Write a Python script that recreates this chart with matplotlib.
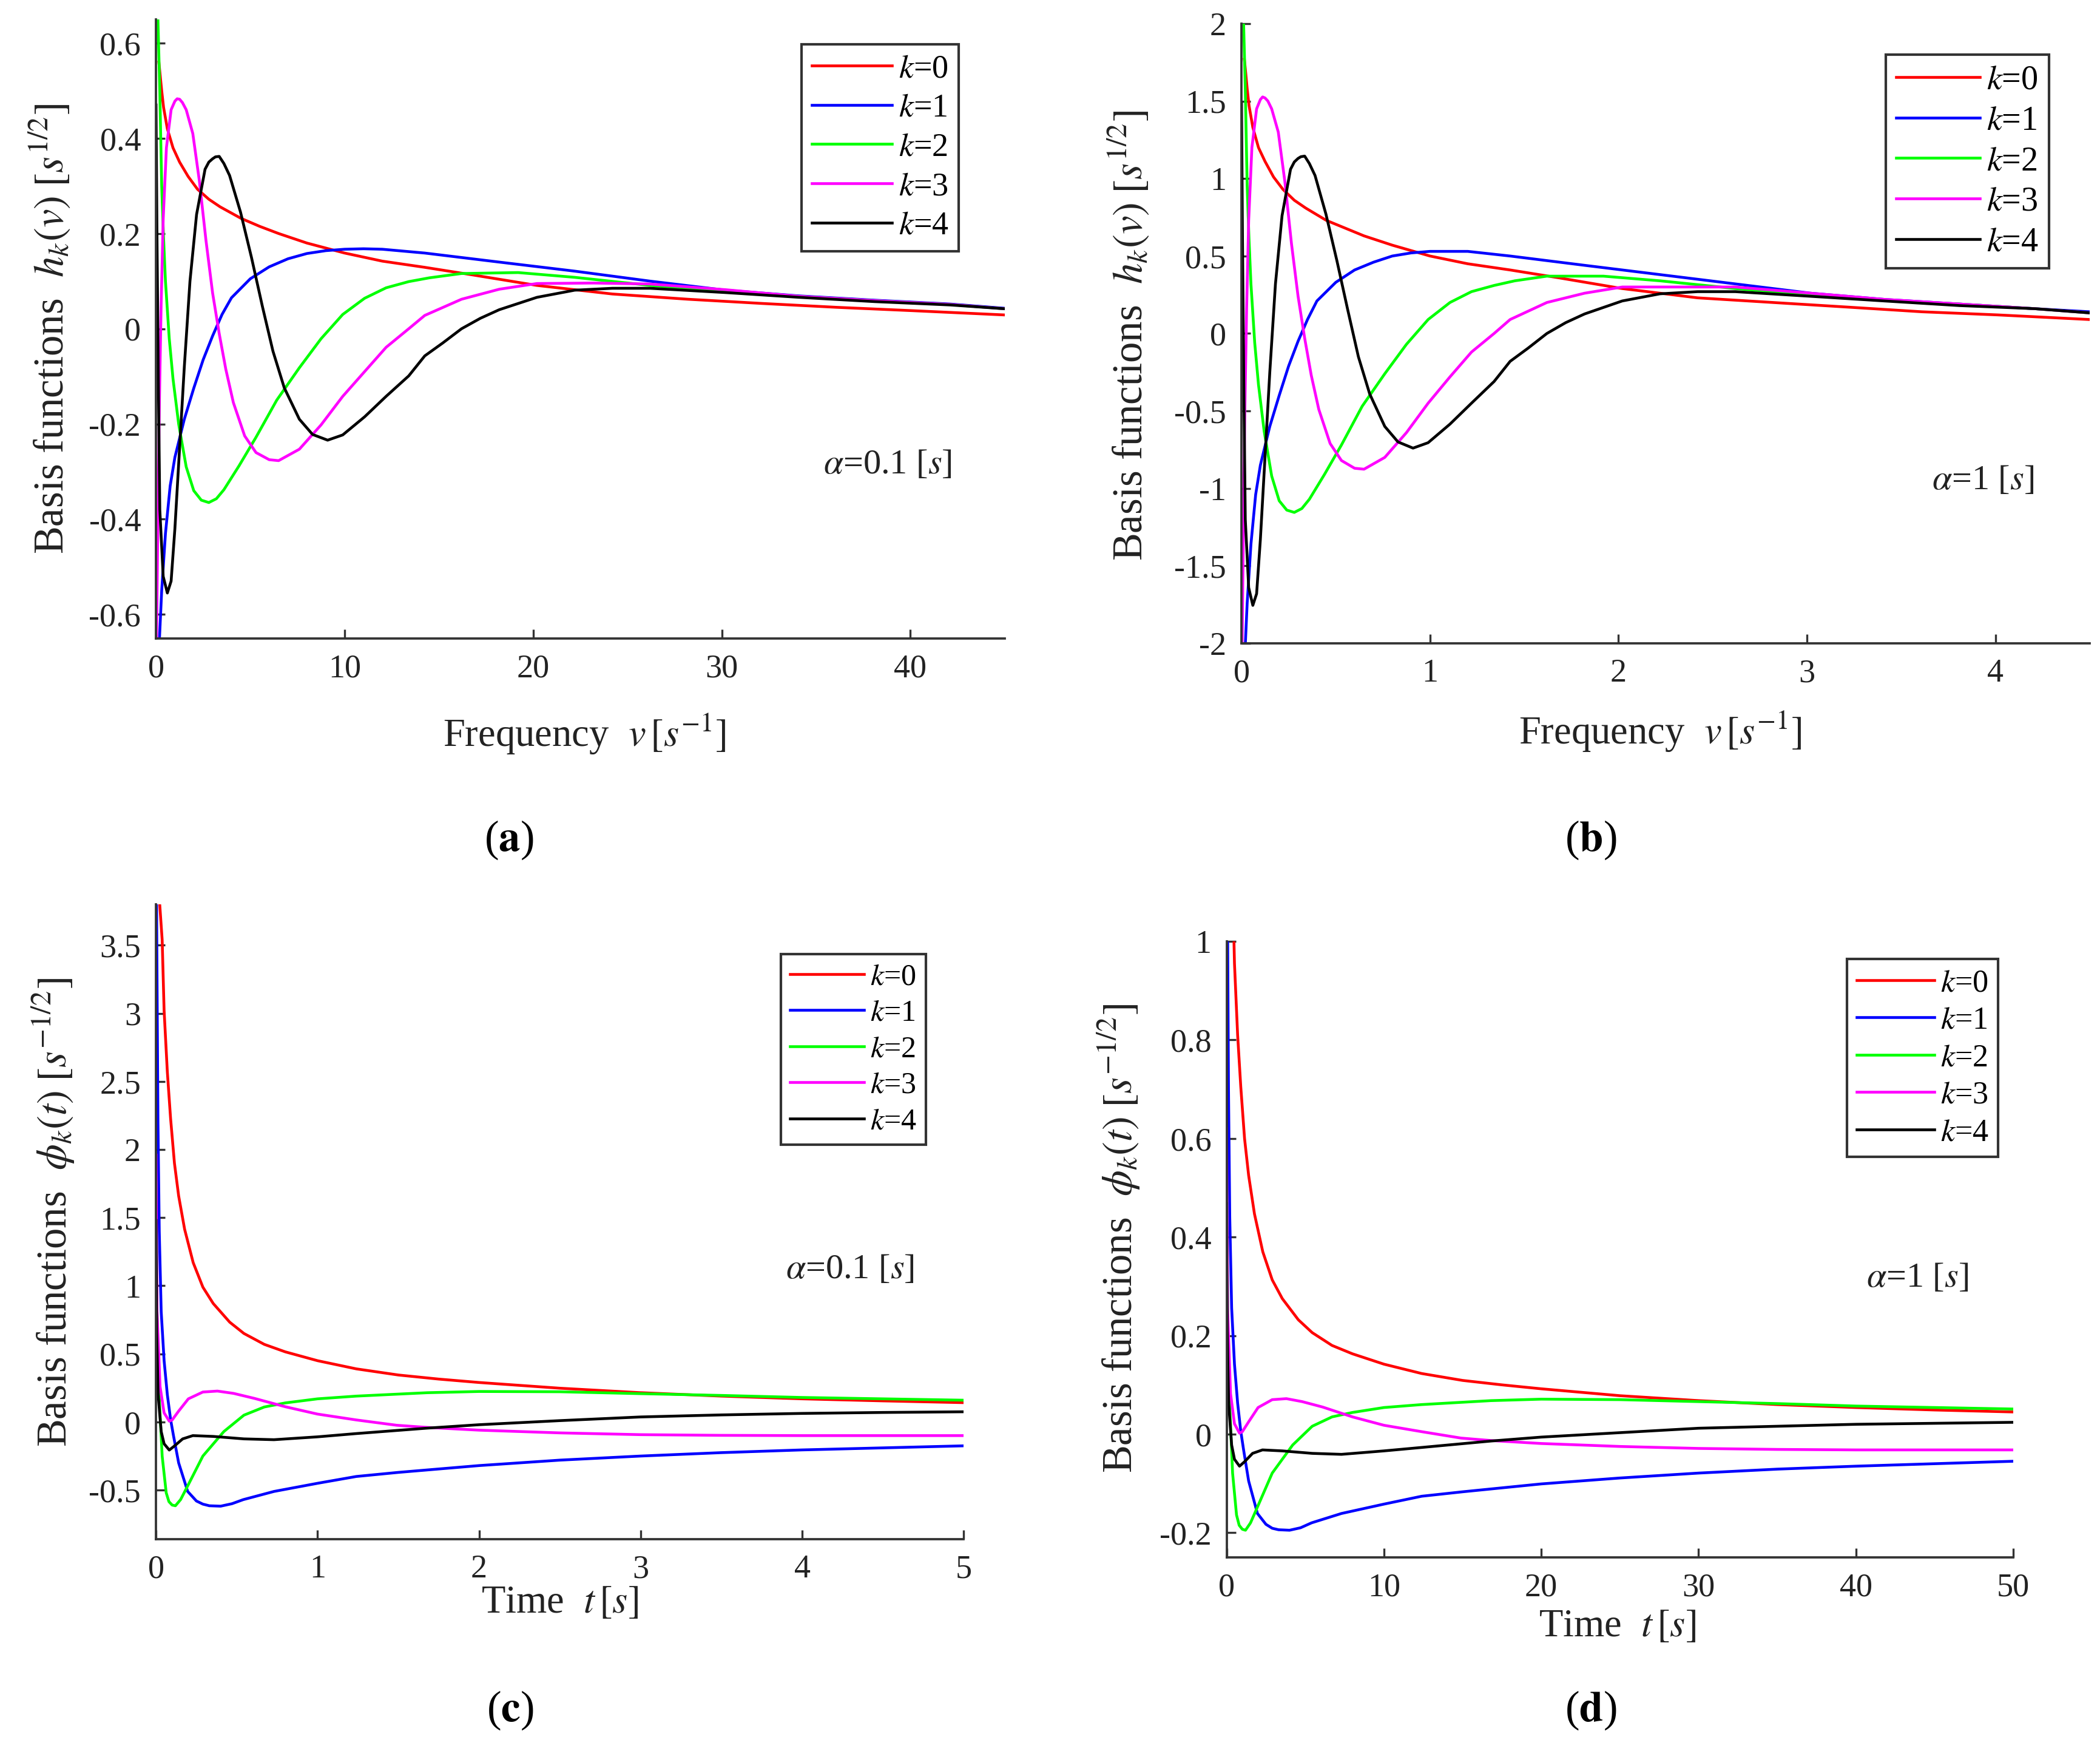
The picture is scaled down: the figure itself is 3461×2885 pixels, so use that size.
import matplotlib
matplotlib.use("Agg")
import matplotlib.pyplot as plt

plt.rcParams["font.family"] = ["Liberation Serif", "DejaVu Serif"]
plt.rcParams["mathtext.fontset"] = "stix"
plt.rcParams["axes.unicode_minus"] = False

# ---- panel (a): frequency domain, alpha = 0.1 s ----
a_k0_x = [0.15, 0.2, 0.3, 0.4, 0.6, 0.9, 1.25, 1.7, 2.2, 2.8, 3.4, 4.5, 5.5, 6.5, 8, 10, 12, 14.25, 16.8, 20.2, 24.2, 28.2, 32.2, 36.1, 40.1, 45]
a_k0_y = [0.56, 0.54, 0.5, 0.465, 0.42, 0.38, 0.35, 0.32, 0.293, 0.272, 0.256, 0.232, 0.215, 0.2, 0.18, 0.159, 0.142, 0.129, 0.113, 0.091, 0.073, 0.062, 0.053, 0.045, 0.038, 0.029]
a_k1_x = [0.16, 0.3, 0.5, 0.75, 1.0, 1.5, 2.0, 2.5, 3.0, 3.5, 4.0, 5, 6, 7, 8, 9, 10, 11, 12, 14.25, 18.2, 22.2, 26.2, 30.2, 34.1, 38.1, 42.1, 45]
a_k1_y = [-0.67, -0.55, -0.43, -0.33, -0.27, -0.19, -0.125, -0.065, -0.015, 0.03, 0.065, 0.105, 0.13, 0.147, 0.158, 0.164, 0.167, 0.168, 0.167, 0.159, 0.14, 0.121, 0.10, 0.081, 0.069, 0.06, 0.052, 0.043]
a_k2_x = [0.08, 0.2, 0.3, 0.4, 0.5, 0.6, 0.7, 0.9, 1.2, 1.6, 2.0, 2.4, 2.8, 3.2, 3.6, 4.4, 5.3, 6.4, 7.6, 8.75, 9.9, 11.06, 12.2, 13.4, 14.5, 16.2, 19.2, 22.2, 26.2, 30.2, 34.1, 38.1, 42.1, 45]
a_k2_y = [0.68, 0.5, 0.3, 0.19, 0.1, 0.04, -0.02, -0.105, -0.2, -0.29, -0.34, -0.36, -0.365, -0.357, -0.338, -0.288, -0.228, -0.15, -0.082, -0.021, 0.03, 0.064, 0.086, 0.099, 0.107, 0.116, 0.118, 0.108, 0.091, 0.08, 0.068, 0.059, 0.051, 0.042]
a_k3_x = [0.02, 0.1, 0.18, 0.27, 0.38, 0.55, 0.8, 1.0, 1.12, 1.25, 1.4, 1.6, 1.95, 2.3, 2.65, 3.0, 3.35, 3.7, 4.1, 4.7, 5.3, 6.0, 6.5, 7.6, 8.75, 9.9, 11.06, 12.2, 13.4, 14.25, 16.2, 18.2, 20.2, 23.2, 26.2, 30.2, 34.1, 38.1, 42.1, 45]
a_k3_y = [-0.67, -0.4, -0.15, 0.05, 0.23, 0.38, 0.46, 0.478, 0.483, 0.482, 0.475, 0.46, 0.41, 0.31, 0.185, 0.075, -0.01, -0.085, -0.155, -0.225, -0.26, -0.275, -0.277, -0.253, -0.202, -0.142, -0.09, -0.039, 0.0, 0.028, 0.062, 0.083, 0.095, 0.096, 0.094, 0.082, 0.068, 0.059, 0.051, 0.042]
a_k4_x = [0.0, 0.05, 0.12, 0.2, 0.38, 0.6, 0.8, 1.0, 1.25, 1.5, 1.8, 2.15, 2.6, 2.8, 3.0, 3.15, 3.35, 3.6, 3.9, 4.48, 5.06, 5.64, 6.2, 6.8, 7.6, 8.3, 9.1, 9.9, 11.06, 12.2, 13.4, 14.25, 15.2, 16.2, 17.2, 18.2, 20.2, 22.2, 24.2, 26.2, 30.2, 34.1, 38.1, 42.1, 45]
a_k4_y = [0.47, 0.2, -0.1, -0.38, -0.52, -0.555, -0.53, -0.42, -0.25, -0.08, 0.1, 0.24, 0.335, 0.35, 0.357, 0.361, 0.362, 0.347, 0.322, 0.245, 0.15, 0.047, -0.047, -0.124, -0.19, -0.222, -0.234, -0.223, -0.185, -0.142, -0.099, -0.057, -0.03, 0.0, 0.022, 0.04, 0.066, 0.081, 0.085, 0.085, 0.076, 0.066, 0.057, 0.05, 0.042]

# ---- panel (b): frequency domain, alpha = 1 s ----
b_k0_x = [0.015, 0.02, 0.03, 0.04, 0.06, 0.09, 0.125, 0.17, 0.22, 0.28, 0.34, 0.45, 0.55, 0.65, 0.8, 1.0, 1.2, 1.425, 1.68, 2.02, 2.42, 2.82, 3.22, 3.61, 4.01, 4.5]
b_k0_y = [1.77, 1.71, 1.58, 1.47, 1.33, 1.20, 1.11, 1.01, 0.93, 0.86, 0.81, 0.73, 0.68, 0.63, 0.57, 0.50, 0.45, 0.41, 0.36, 0.29, 0.23, 0.20, 0.17, 0.14, 0.12, 0.09]
b_k1_x = [0.016, 0.03, 0.05, 0.075, 0.1, 0.15, 0.2, 0.25, 0.3, 0.35, 0.4, 0.5, 0.6, 0.7, 0.8, 0.9, 1.0, 1.1, 1.2, 1.425, 1.82, 2.22, 2.62, 3.02, 3.41, 3.81, 4.21, 4.5]
b_k1_y = [-2.12, -1.74, -1.36, -1.04, -0.85, -0.60, -0.40, -0.21, -0.05, 0.09, 0.21, 0.33, 0.41, 0.46, 0.50, 0.52, 0.53, 0.53, 0.53, 0.50, 0.44, 0.38, 0.32, 0.26, 0.22, 0.19, 0.16, 0.14]
b_k2_x = [0.008, 0.02, 0.03, 0.04, 0.05, 0.06, 0.07, 0.09, 0.12, 0.16, 0.2, 0.24, 0.28, 0.32, 0.36, 0.44, 0.53, 0.64, 0.76, 0.875, 0.99, 1.106, 1.22, 1.34, 1.45, 1.62, 1.92, 2.22, 2.62, 3.02, 3.41, 3.81, 4.21, 4.5]
b_k2_y = [2.15, 1.58, 0.95, 0.6, 0.32, 0.13, -0.06, -0.33, -0.63, -0.92, -1.08, -1.14, -1.155, -1.13, -1.07, -0.91, -0.72, -0.47, -0.26, -0.07, 0.09, 0.20, 0.27, 0.31, 0.34, 0.37, 0.37, 0.34, 0.29, 0.25, 0.215, 0.19, 0.16, 0.133]
b_k3_x = [0.002, 0.01, 0.018, 0.027, 0.038, 0.055, 0.08, 0.1, 0.112, 0.125, 0.14, 0.16, 0.195, 0.23, 0.265, 0.3, 0.335, 0.37, 0.41, 0.47, 0.53, 0.6, 0.65, 0.76, 0.875, 0.99, 1.106, 1.22, 1.34, 1.425, 1.62, 1.82, 2.02, 2.32, 2.62, 3.02, 3.41, 3.81, 4.21, 4.5]
b_k3_y = [-2.12, -1.26, -0.47, 0.16, 0.73, 1.20, 1.45, 1.51, 1.527, 1.52, 1.50, 1.45, 1.30, 0.98, 0.58, 0.24, -0.03, -0.27, -0.49, -0.71, -0.82, -0.87, -0.876, -0.80, -0.64, -0.45, -0.28, -0.12, 0.0, 0.09, 0.20, 0.26, 0.30, 0.30, 0.30, 0.26, 0.22, 0.19, 0.16, 0.133]
b_k4_x = [0.0, 0.005, 0.012, 0.02, 0.038, 0.06, 0.08, 0.1, 0.125, 0.15, 0.18, 0.215, 0.26, 0.28, 0.3, 0.315, 0.335, 0.36, 0.39, 0.448, 0.506, 0.564, 0.62, 0.68, 0.76, 0.83, 0.91, 0.99, 1.106, 1.22, 1.34, 1.425, 1.52, 1.62, 1.72, 1.82, 2.02, 2.22, 2.42, 2.62, 3.02, 3.41, 3.81, 4.21, 4.5]
b_k4_y = [1.49, 0.63, -0.32, -1.20, -1.64, -1.755, -1.68, -1.33, -0.79, -0.25, 0.32, 0.76, 1.06, 1.107, 1.13, 1.141, 1.145, 1.097, 1.02, 0.77, 0.47, 0.15, -0.15, -0.39, -0.60, -0.70, -0.74, -0.705, -0.585, -0.45, -0.31, -0.18, -0.095, 0.0, 0.07, 0.126, 0.21, 0.256, 0.27, 0.27, 0.24, 0.21, 0.18, 0.16, 0.133]

# ---- panel (c): time domain, alpha = 0.1 s ----
c_k0_x = [0.02, 0.038, 0.05, 0.07, 0.09, 0.114, 0.14, 0.177, 0.23, 0.29, 0.354, 0.456, 0.544, 0.67, 0.8, 1.0, 1.24, 1.5, 1.75, 2.0, 2.5, 3.0, 3.5, 4.0, 4.5, 5.0]
c_k0_y = [3.85, 3.54, 3.02, 2.57, 2.23, 1.9, 1.66, 1.415, 1.17, 0.99, 0.87, 0.733, 0.65, 0.57, 0.515, 0.45, 0.39, 0.345, 0.315, 0.29, 0.248, 0.215, 0.19, 0.17, 0.155, 0.142]
c_k1_x = [0.003, 0.012, 0.02, 0.032, 0.05, 0.07, 0.09, 0.108, 0.14, 0.196, 0.25, 0.29, 0.33, 0.4, 0.47, 0.54, 0.73, 1.0, 1.24, 1.5, 2.0, 2.5, 3.0, 3.5, 4.0, 4.5, 5.0]
c_k1_y = [3.85, 2.2, 1.4, 0.81, 0.45, 0.2, 0.02, -0.1, -0.3, -0.51, -0.58, -0.603, -0.615, -0.618, -0.6, -0.57, -0.51, -0.45, -0.4, -0.37, -0.32, -0.28, -0.25, -0.225, -0.205, -0.19, -0.175]
c_k2_x = [0.0, 0.006, 0.019, 0.038, 0.063, 0.08, 0.1, 0.12, 0.152, 0.2, 0.29, 0.42, 0.544, 0.67, 0.8, 1.0, 1.24, 1.68, 2.0, 2.5, 3.0, 3.5, 4.0, 4.5, 5.0]
c_k2_y = [1.76, 0.81, 0.2, -0.25, -0.52, -0.585, -0.61, -0.615, -0.57, -0.46, -0.25, -0.07, 0.05, 0.11, 0.14, 0.17, 0.19, 0.215, 0.224, 0.222, 0.208, 0.195, 0.18, 0.17, 0.16]
c_k3_x = [0.0, 0.006, 0.025, 0.05, 0.082, 0.1, 0.14, 0.2, 0.29, 0.38, 0.48, 0.61, 0.8, 1.0, 1.24, 1.49, 1.68, 2.0, 2.5, 3.0, 3.5, 4.0, 5.0]
c_k3_y = [1.96, 0.81, 0.26, 0.067, 0.006, 0.015, 0.08, 0.17, 0.22, 0.227, 0.21, 0.173, 0.112, 0.058, 0.015, -0.024, -0.04, -0.06, -0.08, -0.093, -0.098, -0.1, -0.1]
c_k4_x = [0.0, 0.004, 0.013, 0.032, 0.05, 0.082, 0.114, 0.165, 0.228, 0.354, 0.544, 0.73, 1.0, 1.24, 1.68, 2.0, 2.5, 3.0, 3.5, 4.0, 4.5, 5.0]
c_k4_y = [1.48, 0.66, 0.2, -0.07, -0.16, -0.206, -0.176, -0.124, -0.1, -0.106, -0.124, -0.13, -0.109, -0.085, -0.045, -0.02, 0.01, 0.037, 0.052, 0.063, 0.07, 0.075]

# ---- panel (d): time domain, alpha = 1 s ----
d_k0_x = [0.2, 0.38, 0.5, 0.7, 0.9, 1.14, 1.4, 1.77, 2.3, 2.9, 3.54, 4.56, 5.44, 6.7, 8, 10, 12.4, 15, 17.5, 20, 25, 30, 35, 40, 45, 50]
d_k0_y = [1.22, 1.12, 0.955, 0.81, 0.705, 0.60, 0.525, 0.447, 0.37, 0.313, 0.275, 0.232, 0.206, 0.18, 0.163, 0.142, 0.123, 0.109, 0.1, 0.092, 0.078, 0.068, 0.06, 0.054, 0.049, 0.045]
d_k1_x = [0.03, 0.12, 0.2, 0.32, 0.5, 0.7, 0.9, 1.08, 1.4, 1.96, 2.5, 2.9, 3.3, 4.0, 4.7, 5.4, 7.3, 10, 12.4, 15, 20, 25, 30, 35, 40, 45, 50]
d_k1_y = [1.22, 0.70, 0.44, 0.256, 0.142, 0.063, 0.006, -0.032, -0.095, -0.161, -0.183, -0.191, -0.194, -0.195, -0.19, -0.18, -0.161, -0.142, -0.126, -0.117, -0.101, -0.089, -0.079, -0.071, -0.065, -0.06, -0.055]
d_k2_x = [0.0, 0.06, 0.19, 0.38, 0.63, 0.8, 1.0, 1.2, 1.52, 2.0, 2.9, 4.2, 5.44, 6.7, 8, 10, 12.4, 16.8, 20, 25, 30, 35, 40, 45, 50]
d_k2_y = [0.557, 0.256, 0.063, -0.079, -0.164, -0.185, -0.193, -0.195, -0.18, -0.145, -0.079, -0.022, 0.016, 0.035, 0.044, 0.054, 0.06, 0.068, 0.071, 0.07, 0.066, 0.062, 0.057, 0.054, 0.051]
d_k3_x = [0.0, 0.06, 0.25, 0.5, 0.82, 1.0, 1.4, 2.0, 2.9, 3.8, 4.8, 6.1, 8, 10, 12.4, 14.9, 16.8, 20, 25, 30, 35, 40, 50]
d_k3_y = [0.62, 0.256, 0.082, 0.021, 0.002, 0.005, 0.025, 0.054, 0.07, 0.072, 0.066, 0.055, 0.035, 0.018, 0.005, -0.008, -0.013, -0.019, -0.025, -0.029, -0.031, -0.032, -0.032]
d_k4_x = [0.0, 0.04, 0.13, 0.32, 0.5, 0.82, 1.14, 1.65, 2.28, 3.54, 5.44, 7.3, 10, 12.4, 16.8, 20, 25, 30, 35, 40, 45, 50]
d_k4_y = [0.468, 0.209, 0.063, -0.022, -0.051, -0.065, -0.056, -0.039, -0.032, -0.034, -0.039, -0.041, -0.034, -0.027, -0.014, -0.006, 0.003, 0.012, 0.016, 0.02, 0.022, 0.024]

legend_labels = [r"$k$=0", r"$k$=1", r"$k$=2", r"$k$=3", r"$k$=4"]
colors = ["#ff0000", "#0000ff", "#00ff00", "#ff00ff", "#000000"]

a_xticks = [0, 10, 20, 30, 40]
a_yticks = [-0.6, -0.4, -0.2, 0, 0.2, 0.4, 0.6]
b_xticks = [0, 1, 2, 3, 4]
b_yticks = [-2, -1.5, -1, -0.5, 0, 0.5, 1, 1.5, 2]
c_xticks = [0, 1, 2, 3, 4, 5]
c_yticks = [-0.5, 0, 0.5, 1, 1.5, 2, 2.5, 3, 3.5]
d_xticks = [0, 10, 20, 30, 40, 50]
d_yticks = [-0.2, 0, 0.2, 0.4, 0.6, 0.8, 1]

H_LABEL = r"Basis functions  $h_k(v)\;[s^{1/2}]$"
PHI_LABEL = r"Basis functions  $\phi_k(t)\;[s^{-1/2}]$"
FREQ_LABEL = r"Frequency  $v\,[s^{-1}]$"
TIME_LABEL = r"Time  $t\,[s]$"


def fmt(v):
    return "{:g}".format(v)


def draw_panel(ax, curves, xlim, ylim, xticks, yticks, xlabel, xlab_pos,
               ylabel, ylab_pos, alpha_text, alpha_pos, leg_anchor, leg_fs):
    lines = []
    for (x, y), c in zip(curves, colors):
        ln, = ax.plot(x, y, color=c, lw=1.1)
        lines.append(ln)
    ax.set_xlim(*xlim)
    ax.set_ylim(*ylim)
    ax.set_xticks(xticks)
    ax.set_xticklabels([fmt(t) for t in xticks])
    ax.set_yticks(yticks)
    ax.set_yticklabels([fmt(t) for t in yticks])
    for s in ["top", "right"]:
        ax.spines[s].set_visible(False)
    for s in ["left", "bottom"]:
        ax.spines[s].set_color("#333333")
        ax.spines[s].set_linewidth(0.9)
    ax.tick_params(direction="in", length=3.5, width=0.8, labelsize=13,
                   colors="#333333", labelcolor="#222222", pad=6)
    ax.text(xlab_pos[0], xlab_pos[1], xlabel, transform=ax.transAxes,
            ha="center", va="center", fontsize=15.5, color="#222222")
    ax.text(ylab_pos[0], ylab_pos[1], ylabel, transform=ax.transAxes,
            ha="center", va="center", rotation=90, fontsize=16.5, color="#222222")
    ax.text(alpha_pos[0], alpha_pos[1], alpha_text, transform=ax.transAxes,
            ha="center", va="center", fontsize=14, color="#222222")
    leg = ax.legend(lines, legend_labels, loc="upper right",
                    bbox_to_anchor=leg_anchor, fontsize=leg_fs, handlelength=2.45,
                    handletextpad=0.2, labelspacing=0.26, borderpad=0.3,
                    borderaxespad=0, fancybox=False, framealpha=1,
                    edgecolor="#333333")
    leg.get_frame().set_linewidth(1.0)


fig = plt.figure(figsize=(3461 / 300, 2885 / 300), dpi=300)

ax_a = fig.add_axes([0.0743, 0.6355, 0.4041, 0.3535])
draw_panel(ax_a, [(a_k0_x, a_k0_y), (a_k1_x, a_k1_y), (a_k2_x, a_k2_y),
                  (a_k3_x, a_k3_y), (a_k4_x, a_k4_y)],
           (0, 45), (-0.65, 0.65), a_xticks, a_yticks,
           FREQ_LABEL, (0.505, -0.154), H_LABEL, (-0.125, 0.5),
           r"$\alpha$=0.1 [$s$]", (0.862, 0.28), (0.946, 0.96), 13)

ax_b = fig.add_axes([0.5912, 0.6326, 0.4039, 0.3539])
draw_panel(ax_b, [(b_k0_x, b_k0_y), (b_k1_x, b_k1_y), (b_k2_x, b_k2_y),
                  (b_k3_x, b_k3_y), (b_k4_x, b_k4_y)],
           (0, 4.5), (-2, 2), b_xticks, b_yticks,
           FREQ_LABEL, (0.494, -0.142), H_LABEL, (-0.133, 0.497),
           r"$\alpha$=1 [$s$]", (0.874, 0.262), (0.952, 0.95), 13.5)

ax_c = fig.add_axes([0.0743, 0.121, 0.3846, 0.3625])
draw_panel(ax_c, [(c_k0_x, c_k0_y), (c_k1_x, c_k1_y), (c_k2_x, c_k2_y),
                  (c_k3_x, c_k3_y), (c_k4_x, c_k4_y)],
           (0, 5), (-0.86, 3.8), c_xticks, c_yticks,
           TIME_LABEL, (0.5, -0.101), PHI_LABEL, (-0.127, 0.515),
           r"$\alpha$=0.1 [$s$]", (0.859, 0.424), (0.953, 0.922), 12)

ax_d = fig.add_axes([0.5841, 0.1106, 0.3746, 0.3518])
draw_panel(ax_d, [(d_k0_x, d_k0_y), (d_k1_x, d_k1_y), (d_k2_x, d_k2_y),
                  (d_k3_x, d_k3_y), (d_k4_x, d_k4_y)],
           (0, 50), (-0.25, 1.0), d_xticks, d_yticks,
           TIME_LABEL, (0.497, -0.113), PHI_LABEL, (-0.137, 0.518),
           r"$\alpha$=1 [$s$]", (0.878, 0.453), (0.981, 0.971), 12.5)

# panel letters
for lab, px, py in [("a", 839, 1384), ("b", 2622, 1384), ("c", 841, 2818), ("d", 2622, 2818)]:
    fig.text(px / 3461, 1 - py / 2885, r"($\mathbf{" + lab + r"}$)",
             ha="center", va="center", fontsize=17)

fig.savefig("out.png", dpi=300)
